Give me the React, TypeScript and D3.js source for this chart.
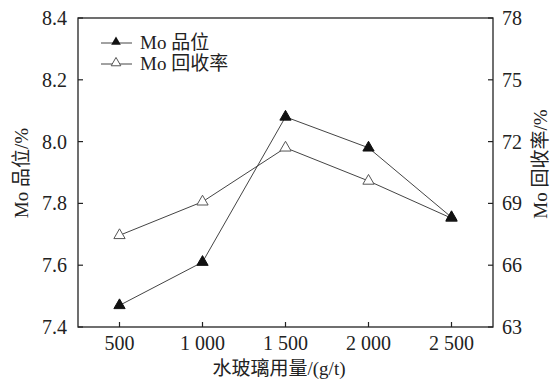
import React from "react";
import * as d3 from "d3";

const dosages = [500, 1000, 1500, 2000, 2500];
const grade = [7.47, 7.61, 8.08, 7.98, 7.755];
const recovery = [67.45, 69.08, 71.7, 70.09, 68.28];
const xTickLabels = ["500", "1 000", "1 500", "2 000", "2 500"];
const leftTicks = [7.4, 7.6, 7.8, 8.0, 8.2, 8.4];
const rightTicks = [63, 66, 69, 72, 75, 78];

const W = 553, H = 381;
const M = { left: 78, top: 18, right: 493, bottom: 327 };
const FONT = "'Liberation Serif', 'Times New Roman', 'Noto Sans CJK SC', serif";

export default function App() {
  const x = d3.scaleLinear().domain([250, 2750]).range([M.left, M.right]);
  const yL = d3.scaleLinear().domain([7.4, 8.4]).range([M.bottom, M.top]);
  const yR = d3.scaleLinear().domain([63, 78]).range([M.bottom, M.top]);
  const lineL = d3.line<number>().x((_, i) => x(dosages[i])).y((d) => yL(d));
  const lineR = d3.line<number>().x((_, i) => x(dosages[i])).y((d) => yR(d));
  const tri = d3.symbol().type(d3.symbolTriangle).size(55);
  const triPath = tri() as string;
  const legTri = d3.symbol().type(d3.symbolTriangle).size(40)() as string;
  const lineColor = "#444";
  const tickLen = 5;

  return (
    <svg width={W} height={H} style={{ position: "absolute", left: 0, top: 0 }} fontFamily={FONT}>
      <rect x={0} y={0} width={W} height={H} fill="#fff" />
      <rect x={M.left} y={M.top} width={M.right - M.left} height={M.bottom - M.top} fill="none" stroke="#222" strokeWidth={1.3} />
      {dosages.map((d, i) => (
        <g key={"x" + i}>
          <line x1={x(d)} x2={x(d)} y1={M.bottom} y2={M.bottom - tickLen} stroke="#222" strokeWidth={1.2} />
          <text x={x(d)} y={350} textAnchor="middle" fontSize={20} fill="#222">{xTickLabels[i]}</text>
        </g>
      ))}
      {leftTicks.map((t, i) => (
        <g key={"l" + i}>
          <line x1={M.left} x2={M.left + tickLen} y1={yL(t)} y2={yL(t)} stroke="#222" strokeWidth={1.2} />
          <text x={M.left - 11} y={yL(t) + 7} textAnchor="end" fontSize={20} fill="#222">{t.toFixed(1)}</text>
        </g>
      ))}
      {rightTicks.map((t, i) => (
        <g key={"r" + i}>
          <line x1={M.right} x2={M.right - tickLen} y1={yR(t)} y2={yR(t)} stroke="#222" strokeWidth={1.2} />
          <text x={M.right + 9} y={yR(t) + 7} textAnchor="start" fontSize={20} fill="#222">{t}</text>
        </g>
      ))}
      <text x={279} y={375} textAnchor="middle" fontSize={19} fill="#222">水玻璃用量/(g/t)</text>
      <text transform={`translate(28,173) rotate(-90)`} textAnchor="middle" fontSize={19} fill="#222">Mo 品位/%</text>
      <text transform={`translate(547,164) rotate(-90)`} textAnchor="middle" fontSize={19} fill="#222">Mo 回收率/%</text>
      <path d={lineR(recovery) as string} fill="none" stroke={lineColor} strokeWidth={1} />
      <path d={lineL(grade) as string} fill="none" stroke={lineColor} strokeWidth={1} />
      {recovery.map((v, i) => (
        <path key={"ro" + i} d={triPath} transform={`translate(${x(dosages[i])},${yR(v)})`} fill="#fff" stroke="#555" strokeWidth={1} />
      ))}
      {grade.map((v, i) => (
        <path key={"gf" + i} d={triPath} transform={`translate(${x(dosages[i])},${yL(v)})`} fill="#111" stroke="#111" strokeWidth={1} />
      ))}
      <g>
        <line x1={101} x2={132} y1={43} y2={43} stroke={lineColor} strokeWidth={1} />
        <path d={legTri} transform="translate(116,42)" fill="#111" />
        <text x={140} y={49} fontSize={19} fill="#222">Mo 品位</text>
        <line x1={101} x2={132} y1={64} y2={64} stroke={lineColor} strokeWidth={1} />
        <path d={legTri} transform="translate(116,63)" fill="#fff" stroke="#555" strokeWidth={1} />
        <text x={140} y={70} fontSize={19} fill="#222">Mo 回收率</text>
      </g>
    </svg>
  );
}
